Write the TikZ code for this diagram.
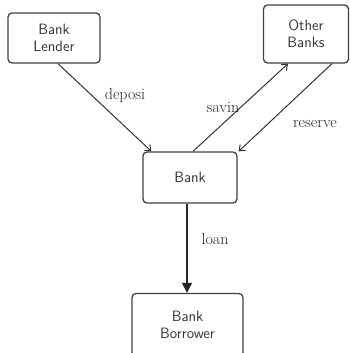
\documentclass[tikz,border=0pt]{standalone}
\usepackage{tikz}
\usetikzlibrary{arrows.meta}

\begin{document}
\begin{tikzpicture}[x=1pt,y=-1pt,>={Straight Barb[length=5pt,width=8pt]},
    box/.style={draw=black!75,line width=1.3pt,rounded corners=4pt,align=center,
      inner sep=0pt,font=\sffamily\fontsize{15}{17}\selectfont,text=black!80},
    flow/.style={->,line width=1pt,black!80},
    lbl/.style={font=\fontsize{16}{18}\selectfont,text=black!85}]
  \useasboundingbox (0,0) rectangle (350,353);
  % boxes
  \node[box,minimum width=92pt,minimum height=50pt] (lender) at (54,38) {Bank\\Lender};
  \node[box,minimum width=85pt,minimum height=58pt] (other) at (306,34) {Other\\Banks};
  \node[box,minimum width=94pt,minimum height=51pt] (bank) at (190,177.5) {Bank};
  \node[box,minimum width=111pt,minimum height=63pt] (borrower) at (187.5,325) {Bank\\Borrower};
  % flows
  \draw[flow] ([xshift=4pt]lender.south) -- ([xshift=9pt]bank.north west);
  \draw[flow] ([xshift=3pt]bank.north) -- ([xshift=-18pt]other.south);
  \draw[flow] ([xshift=26pt]other.south) -- ([xshift=1pt]bank.north east);
  \draw[-{Triangle[length=10pt,width=10pt]},line width=1.1pt,black!85] ([xshift=-3pt]bank.south) -- ([xshift=-0.5pt]borrower.north);
  % labels
  \node[lbl] (ldep) at (125,96) {deposi};
  \node[lbl] (lsav) at (223,107) {savin};
  \node[lbl] (lres) at (315,124) {reserve};
  \node[lbl] (lloan) at (215,239) {loan};
\end{tikzpicture}
\end{document}
